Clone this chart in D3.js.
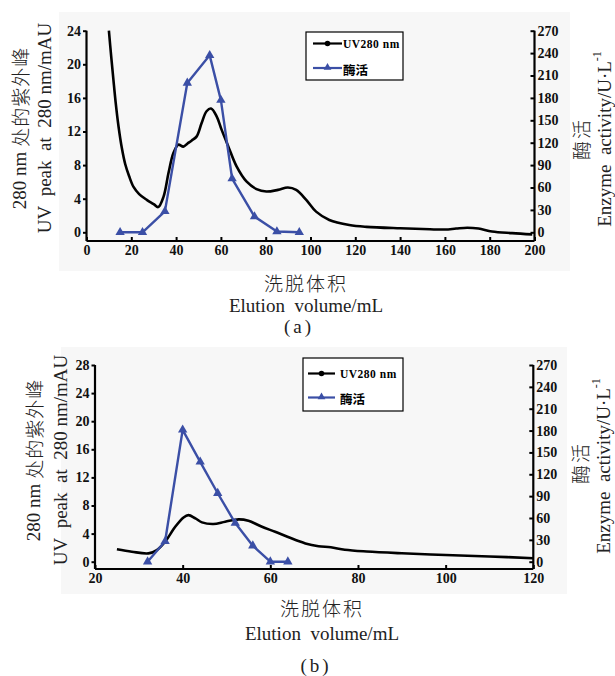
<!DOCTYPE html>
<html>
<head>
<meta charset="utf-8">
<script src="https://cdn.jsdelivr.net/npm/d3@7"></script>
<style>
  html, body { margin: 0; padding: 0; background: #ffffff; }
  svg { display: block; }
  .tick text { font-family: "Liberation Serif", "Times New Roman", serif; font-weight: bold; font-size: 14px; fill: #111; }
  .title { font-family: "Liberation Serif", "Times New Roman", serif; font-size: 19px; fill: #222; }
  .cjk { font-family: "Noto Sans CJK SC", sans-serif; font-weight: 300; fill: #222; }
</style>
</head>
<body>
<svg id="chart" width="615" height="676"></svg>
<script>
// ---- Panel (a): elution profile, 0–200 mL ----
const volA = [10, 11, 12, 13, 14.3, 15.8, 17.3, 19, 21, 23.5, 26.9, 30, 32, 34.4, 36.6, 38.8, 41, 43.2, 45, 47, 49.2, 51.4, 53.6, 55.6, 58.1, 60.3, 63.3, 67, 71.4, 75.9, 80.3, 85.5, 89.9, 93.6, 98.1, 102.5, 108.4, 117.3, 125, 140, 150, 160, 165, 170, 175, 181, 190, 199];
const uvA  = [24, 21, 18.2, 15.5, 12.6, 10, 8.1, 6.7, 5.4, 4.55, 3.86, 3.35, 3.0, 4.25, 7.05, 9.44, 10.43, 10.2, 10.55, 10.94, 11.42, 13.0, 14.41, 14.73, 13.8, 12.22, 10.23, 7.84, 6.05, 5.14, 4.85, 5.05, 5.33, 5.05, 3.86, 2.46, 1.47, 0.87, 0.65, 0.48, 0.4, 0.33, 0.45, 0.55, 0.45, 0.1, -0.1, -0.25];
const actVolA = [15, 25, 35, 45, 55, 60, 65, 75, 85, 95];
const actA    = [0, 0, 28, 200, 237, 177, 72, 21, 1, 0];

// ---- Panel (b): elution profile, 20–120 mL ----
const volB = [25, 28.4, 32.2, 34.1, 36, 38.3, 40.2, 41.3, 42.9, 44.4, 47, 49.7, 52.8, 55, 58.1, 61.1, 64.2, 68, 71, 73.8, 77, 82, 90, 100, 110, 120];
const uvB  = [1.76, 1.42, 1.19, 1.66, 2.84, 4.97, 6.3, 6.63, 6.17, 5.6, 5.36, 5.69, 6.03, 5.83, 4.97, 4.26, 3.47, 2.6, 2.2, 2.05, 1.7, 1.45, 1.2, 0.95, 0.75, 0.5];
const actVolB = [32, 36, 40, 44, 48, 52, 56, 60, 64];
const actB    = [0, 28, 181, 137, 94, 53, 22, 0, 0];

// ---- Axis tick values ----
const xTicksA = [0, 20, 40, 60, 80, 100, 120, 140, 160, 180, 200];
const yTicksA = [0, 4, 8, 12, 16, 20, 24];
const xTicksB = [20, 40, 60, 80, 100, 120];
const yTicksB = [0, 4, 8, 12, 16, 20, 24, 28];
const rTicks  = [0, 30, 60, 90, 120, 150, 180, 210, 240, 270];

// ---- Text ----
const legendUV = "UV280 nm";
const legendAct = "酶活";
const yTitleEn = "UV\u00a0\u00a0peak\u00a0\u00a0at\u00a0\u00a0280 nm/mAU";
const rTitleCn = "酶活";
const rTitleEn = "Enzyme\u00a0\u00a0activity/U\u00b7L";
const xTitleCn = "洗脱体积";
const xTitleEn = "Elution\u00a0\u00a0volume/mL";

const BLUE = "#3b4fa6";
const svg = d3.select("#chart");

function panel(cfg) {
  const g = svg.append("g");
  // plot background
  g.append("rect").attr("x", cfg.bg[0]).attr("y", cfg.bg[1])
    .attr("width", cfg.bg[2] - cfg.bg[0]).attr("height", cfg.bg[3] - cfg.bg[1])
    .attr("fill", "#f7f7f7");

  const x = d3.scaleLinear().domain(cfg.xDomain).range([cfg.left, cfg.right]);
  const y = d3.scaleLinear().domain([0, cfg.yMax]).range([cfg.zeroY, cfg.topY]);
  const yr = d3.scaleLinear().domain([0, 270]).range([cfg.zeroY, cfg.topY]);

  // axis lines
  const ax = g.append("g").attr("stroke", "#000").attr("stroke-width", 2.2).attr("fill", "none");
  ax.append("line").attr("x1", cfg.left).attr("x2", cfg.right).attr("y1", cfg.axisY).attr("y2", cfg.axisY);
  ax.append("line").attr("x1", cfg.left).attr("x2", cfg.left).attr("y1", cfg.axisY).attr("y2", cfg.topY);
  ax.append("line").attr("x1", cfg.right).attr("x2", cfg.right).attr("y1", cfg.axisY).attr("y2", cfg.topY);

  const styleAxis = sel => {
    sel.select(".domain").remove();
    sel.selectAll(".tick line").attr("stroke", "#000").attr("stroke-width", 2);
  };

  g.append("g").attr("transform", `translate(0,${cfg.axisY})`)
    .call(d3.axisBottom(x).tickValues(cfg.xTicks).tickSize(-4).tickPadding(4).tickFormat(d3.format("d")))
    .call(styleAxis);
  g.append("g").attr("transform", `translate(${cfg.left},0)`)
    .call(d3.axisLeft(y).tickValues(cfg.yTicks).tickSize(3.5).tickPadding(2).tickFormat(d3.format("d")))
    .call(styleAxis);
  g.append("g").attr("transform", `translate(${cfg.right},0)`)
    .call(d3.axisRight(yr).tickValues(rTicks).tickSize(-4).tickPadding(3).tickFormat(d3.format("d")))
    .call(styleAxis);

  // UV absorbance curve
  const line = d3.line().x(d => x(d[0])).y(d => y(d[1])).curve(d3.curveCatmullRom.alpha(0.5));
  g.append("path").datum(d3.zip(cfg.vol, cfg.uv)).attr("d", line)
    .attr("fill", "none").attr("stroke", "#000").attr("stroke-width", 2.6).attr("stroke-linejoin", "round");

  // enzyme activity series (right axis)
  const actPts = d3.zip(cfg.actVol, cfg.act);
  const aline = d3.line().x(d => x(d[0])).y(d => yr(d[1]));
  g.append("path").datum(actPts).attr("d", aline)
    .attr("fill", "none").attr("stroke", BLUE).attr("stroke-width", 2.4).attr("stroke-linejoin", "round");
  const tri = d3.symbol().type(d3.symbolTriangle).size(38);
  g.selectAll(".tri").data(actPts).join("path")
    .attr("transform", d => `translate(${x(d[0])},${yr(d[1])})`)
    .attr("d", tri).attr("fill", BLUE);

  // legend
  const L = cfg.legend;
  g.append("rect").attr("x", L.x0).attr("y", L.y0).attr("width", L.x1 - L.x0).attr("height", L.y1 - L.y0)
    .attr("fill", "#fff").attr("stroke", "#000").attr("stroke-width", 1.2);
  g.append("line").attr("x1", L.lx0).attr("x2", L.lx1).attr("y1", L.r1).attr("y2", L.r1)
    .attr("stroke", "#000").attr("stroke-width", 2.2);
  g.append("circle").attr("cx", (L.lx0 + L.lx1) / 2).attr("cy", L.r1).attr("r", 2.8).attr("fill", "#000");
  g.append("line").attr("x1", L.lx0).attr("x2", L.lx1).attr("y1", L.r2).attr("y2", L.r2)
    .attr("stroke", BLUE).attr("stroke-width", 2.2);
  g.append("path").attr("transform", `translate(${(L.lx0 + L.lx1) / 2},${L.r2 - 0.5})`)
    .attr("d", d3.symbol().type(d3.symbolTriangle).size(26)).attr("fill", BLUE);
  g.append("text").attr("x", L.tx).attr("y", L.r1).attr("dominant-baseline", "central")
    .attr("font-family", "Liberation Serif, serif").attr("font-weight", "bold").attr("font-size", 11.5)
    .attr("letter-spacing", 0.5).attr("fill", "#000").text(legendUV);
  g.append("text").attr("x", L.tx).attr("y", L.r2 + 1).attr("dominant-baseline", "central")
    .attr("font-family", "Noto Sans CJK SC, sans-serif").attr("font-weight", "bold").attr("font-size", 12.5)
    .attr("fill", "#000").text(legendAct);

  // left axis titles (rotated)
  const T = cfg.titles;
  const rot = (tx, ty) => `translate(${tx},${ty}) rotate(-90)`;
  const lt1 = g.append("text").attr("transform", rot(T.l1x, T.ly)).attr("text-anchor", "middle")
    .attr("dominant-baseline", "central").attr("class", "title");
  lt1.append("tspan").text("280 nm\u00a0");
  lt1.append("tspan").attr("class", "cjk").attr("font-size", 19).attr("letter-spacing", 1).text("处的紫外峰");
  g.append("text").attr("transform", rot(T.l2x, T.ly)).attr("text-anchor", "middle")
    .attr("dominant-baseline", "central").attr("class", "title").text(yTitleEn);

  // right axis titles (rotated)
  g.append("text").attr("transform", rot(T.r1x, T.r1y)).attr("text-anchor", "middle")
    .attr("dominant-baseline", "central").attr("class", "cjk").attr("font-size", 19)
    .attr("letter-spacing", 2).text(rTitleCn);
  const rt2 = g.append("text").attr("transform", rot(T.r2x, T.ry)).attr("text-anchor", "middle")
    .attr("dominant-baseline", "central").attr("class", "title");
  rt2.append("tspan").text(rTitleEn);
  rt2.append("tspan").attr("font-size", 12).attr("dy", -7).text("-1");

  // bottom titles
  g.append("text").attr("x", T.bx).attr("y", T.b1).attr("text-anchor", "middle")
    .attr("dominant-baseline", "central").attr("class", "cjk").attr("font-size", 19)
    .attr("letter-spacing", 2).text(xTitleCn);
  g.append("text").attr("x", T.bx).attr("y", T.b2).attr("text-anchor", "middle")
    .attr("dominant-baseline", "central").attr("class", "title").text(xTitleEn);
  g.append("text").attr("x", T.cx).attr("y", T.b3).attr("text-anchor", "middle")
    .attr("dominant-baseline", "central").attr("class", "title").attr("letter-spacing", 3)
    .text(cfg.caption);
}

panel({
  bg: [59, 12, 570, 271],
  xDomain: [0, 200], left: 86.5, right: 534.5,
  yMax: 24, zeroY: 232.3, topY: 30.7, axisY: 241,
  xTicks: xTicksA, yTicks: yTicksA,
  vol: volA, uv: uvA, actVol: actVolA, act: actA,
  legend: { x0: 306, x1: 403, y0: 32, y1: 80, lx0: 313, lx1: 342, r1: 43.5, r2: 68, tx: 343 },
  titles: { l1x: 19, l2x: 44, ly: 128, r1x: 580, r1y: 139, r2x: 604, ry: 139, bx: 306, b1: 282, b2: 305, b3: 326, cx: 299 },
  caption: "(a)"
});

panel({
  bg: [61, 347, 567, 594],
  xDomain: [20, 120], left: 95, right: 533.3,
  yMax: 28, zeroY: 561.7, topY: 365, axisY: 569,
  xTicks: xTicksB, yTicks: yTicksB,
  vol: volB, uv: uvB, actVol: actVolB, act: actB,
  legend: { x0: 303, x1: 403, y0: 358, y1: 411, lx0: 308, lx1: 335, r1: 373.5, r2: 397.5, tx: 340 },
  titles: { l1x: 33, l2x: 60, ly: 460, r1x: 579, r1y: 463, r2x: 603, ry: 466, bx: 322, b1: 607, b2: 633, b3: 665, cx: 316 },
  caption: "(b)"
});
</script>
</body>
</html>
